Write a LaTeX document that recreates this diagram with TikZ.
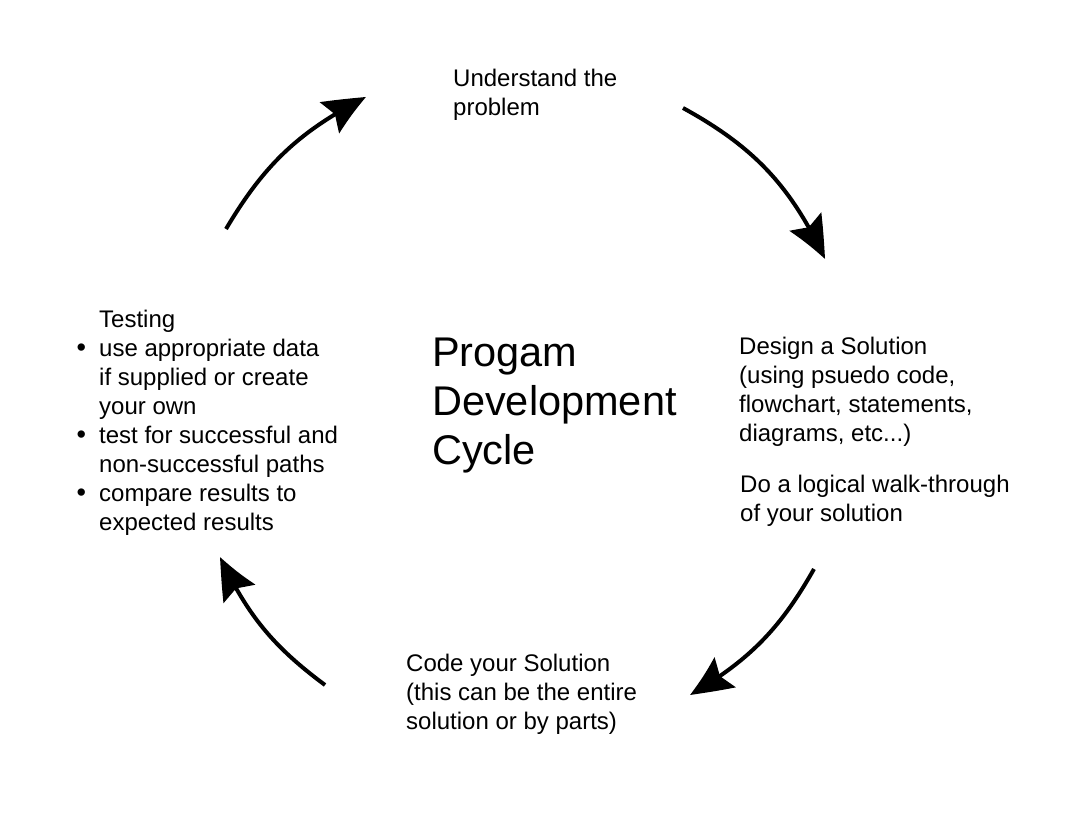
\documentclass[tikz,border=0pt]{standalone}
\usepackage{fontspec}
\setmainfont{Liberation Sans}
\usetikzlibrary{arrows.meta,bending}
\tikzset{
  txt/.style={anchor=base west, inner sep=0pt, align=left, font=\fontsize{24}{29}\selectfont},
  ttl/.style={anchor=base west, inner sep=0pt, align=left, font=\fontsize{41.5}{49}\selectfont},
  cyc/.style={line width=4pt, -{Stealth[length=44pt, width=36pt, inset=7pt, bend]}},
}
\newcommand{\bul}{\llap{{\fontsize{27}{27}\selectfont\textbullet}\hspace{13pt}}}
\begin{document}
\begin{tikzpicture}[x=1pt,y=1pt]
\useasboundingbox (0,0) rectangle (1070,813);
\fill[white] (0,0) rectangle (1070,813);

\node[txt] (und) at (453,697) {Understand the\\problem};
\node[txt] (des) at (739,371) {Design a Solution\\(using psuedo code,\\flowchart, statements,\\diagrams, etc...)};
\node[txt] (walk) at (740,291) {Do a logical walk-through\\of your solution};
\node[txt] (code) at (406,83) {Code your Solution\\(this can be the entire\\solution or by parts)};
\node[txt] (test) at (99,282) {Testing\\\bul use appropriate data\\if supplied or create\\your own\\\bul test for successful and\\non-successful paths\\\bul compare results to\\expected results};
\node[ttl] (title) at (432,348) {Progam\\Development\\Cycle};

\coordinate (a1s) at (226,584); \coordinate (a1e) at (366,716);
\coordinate (a2s) at (683,705); \coordinate (a2e) at (825,554);
\coordinate (a3s) at (814,244); \coordinate (a3e) at (690,118);
\coordinate (a4s) at (325,128); \coordinate (a4e) at (220,256);

\draw[cyc] (a1s) to[bend left=16] (a1e);
\draw[cyc] (a2s) to[bend left=18] (a2e);
\draw[cyc] (a3s) to[bend left=15] (a3e);
\draw[cyc] (a4s) to[bend left=14] (a4e);
\end{tikzpicture}
\end{document}
